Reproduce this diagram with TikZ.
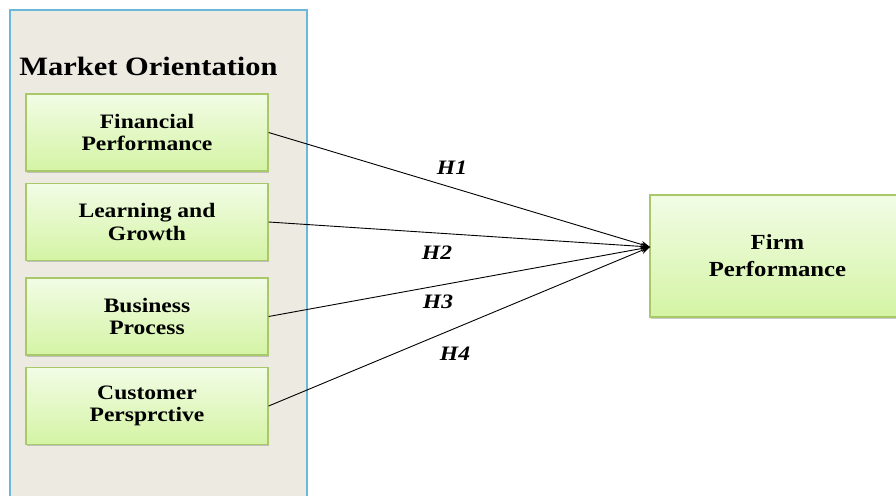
\documentclass[tikz,border=0pt]{standalone}
\usepackage{fontspec}
\setmainfont{Liberation Serif}[FakeStretch=1.15]
\usetikzlibrary{shadows,arrows.meta}
\definecolor{panelfill}{HTML}{EDEAE2}
\definecolor{panelline}{HTML}{6BB8D8}
\definecolor{boxtop}{HTML}{F2FCE6}
\definecolor{boxbottom}{HTML}{D4F4A4}
\definecolor{boxline}{HTML}{A8C86A}
\tikzset{
  panel/.style={draw=panelline, line width=1.3pt, fill=panelfill},
  factor/.style={draw=boxline, line width=1.3pt, top color=boxtop, bottom color=boxbottom,
    drop shadow={shadow xshift=1pt, shadow yshift=-1.5pt, opacity=0.4},
    minimum width=242pt, minimum height=77pt, align=center, inner sep=0pt,
    font=\fontsize{20.5}{22.5}\selectfont\bfseries},
  outcome/.style={factor, minimum width=255pt, minimum height=122pt,
    font=\fontsize{21.5}{27}\selectfont\bfseries},
  hyp/.style={font=\fontsize{20.5}{22}\selectfont\bfseries\itshape, inner sep=0pt},
  link/.style={line width=0.9pt, -{Stealth[length=9pt,width=7pt]}}
}
\begin{document}
\begin{tikzpicture}[x=1pt,y=-1pt]
\useasboundingbox (0,0) rectangle (896,495);
% left panel holding the four dimensions
\draw[panel] (10,10) rectangle (307,505);
\node[font=\fontsize{26.5}{28}\selectfont\bfseries] (title) at (148.5,66) {Market Orientation};
\node[factor] (fin) at (147,132.5) {Financial\\Performance};
\node[factor] (learn) at (147,222) {Learning and\\Growth};
\node[factor] (proc) at (147,316.5) {Business\\Process};
\node[factor] (cust) at (147,406) {Customer\\Persprctive};
% dependent construct
\node[outcome] (firm) at (777.5,256) {Firm\\Performance};
\coordinate (tip) at (650,247);
% hypothesised paths
\draw[link] (fin.east) -- (tip);
\draw[link] (learn.east) -- (tip);
\draw[link] (proc.east) -- (tip);
\draw[link] (cust.east) -- (tip);
\node[hyp] (h1) at (452,168) {H1};
\node[hyp] (h2) at (437,253) {H2};
\node[hyp] (h3) at (438,302) {H3};
\node[hyp] (h4) at (455,354) {H4};
\end{tikzpicture}
\end{document}
